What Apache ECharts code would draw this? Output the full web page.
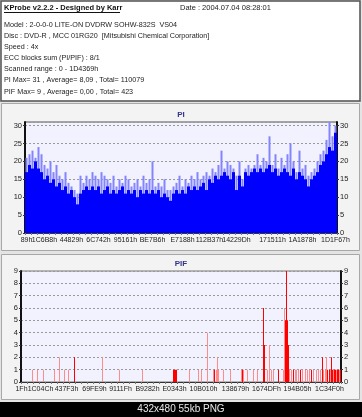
<!DOCTYPE html>
<html>
<head>
<meta charset="utf-8">
<script src="https://cdn.jsdelivr.net/npm/echarts@6/dist/echarts.min.js"></script>
<style>
  html, body { margin: 0; padding: 0; background: #000; }
  #chart { width: 362px; height: 417px; }
</style>
</head>
<body>
<div id="chart"></div>
<script>
// header block
const headerTitle = "KProbe v2.2.2 - Designed by Karr";
const headerDate = "Date : 2004.07.04 08:28:01";
const headerLines = [
  "Model : 2-0-0-0 LITE-ON DVDRW SOHW-832S  VS04",
  "Disc : DVD-R , MCC 01RG20  [Mitsubishi Chemical Corporation]",
  "Speed : 4x",
  "ECC blocks sum (PI/PIF) : 8/1",
  "Scanned range : 0 - 1D4369h",
  "PI Max= 31 , Average= 8,09 , Total= 110079",
  "PIF Max= 9 , Average= 0,00 , Total= 423"
];

// PI: one column per 3px, lower (dense) and upper (spike) envelope
const piBase = [
  17,19,18,20,18,17,15,16,14,15,
  13,14,12,13,11,12,10,8,11,12,
  13,12,13,12,13,11,12,13,11,12,
  11,12,13,11,12,11,12,10,12,11,
  12,11,12,11,12,10,11,10,9,11,
  12,11,12,11,13,12,13,12,13,14,
  12,15,14,16,15,16,17,16,15,17,
  12,16,13,17,16,17,18,17,18,17,
  18,19,17,18,16,17,18,17,16,18,
  15,17,16,15,13,15,16,17,19,20,
  22,24,23,28
];
const piPeak = [
  21,22,23,21,24,22,19,18,20,17,
  19,16,15,17,14,13,12,11,16,14,
  16,15,17,16,15,17,16,15,14,16,
  13,15,14,16,15,13,14,15,13,16,
  14,15,20,13,14,13,15,12,12,13,
  14,16,13,15,14,16,15,17,15,16,
  17,16,18,17,19,23,18,20,19,18,
  16,20,15,18,19,18,19,22,19,21,
  20,27,19,22,18,21,19,22,25,20,
  17,23,18,19,16,17,18,20,22,23,
  26,31,27,30
];
const piLabelIdx = [0, 6, 15, 24, 33, 42, 52, 61, 70, 82, 92, 103];
const piLabelText = ["89h", "1C6B8h", "44829h", "6C742h", "95161h", "BE7B6h",
  "E7188h", "112B37h", "14229Dh", "171511h", "1A1878h", "1D1F67h"];

// PIF: 320 one-pixel columns, sparse spikes
const pifCols = 320;
const pifLightCol = [11,16,22,33,38,43,47,81,98,121,
  168,177,180,186,192,195,196,197,202,209,
  220,222,226,232,236,246,248,250,252,262,
  263,268,270,274,275,277,281,284,286,288,
  292,295,297,299,302,304,305,309,312,315,318];
const pifLightVal = [1,1,1,1,2,1,1,2,1,1,
  1,1,1,4,1,1,2,1,1,1,
  1,1,1,1,1,1,3,1,1,1,
  6,1,1,1,1,1,1,1,1,1,
  1,1,1,1,1,1,2,1,1,1,1];
const pifDarkCol = [53,152,153,154,155,193,221,242,243,257,264,265,266,267,
  272,279,290,301,306,308,310,311,313,314,316,317,319];
const pifDarkVal = [2,1,1,1,1,1,1,6,3,1,5,9,5,3,
  1,1,1,2,1,1,2,1,1,1,1,1,1];
const pifLabelIdx = [0, 19, 45, 73, 99, 126, 153, 182, 214, 245, 276, 308];
const pifLabelText = ["1Fh", "1C04Ch", "437F3h", "69FE9h", "9111Fh", "B9282h",
  "E0343h", "10B010h", "138679h", "1674DFh", "194B05h", "1C34F0h"];

const FONT = "Liberation Sans";
const PIF_LIGHT = "#ff8c8c";
const PIF_DARK = "#ff0000";
const piCats = piBase.map((_, i) => String(i));
const pifCats = Array.from({ length: pifCols }, (_, i) => String(i));

// one item per pixel column, coloured by shade
const pifData = pifCats.map(() => ({ value: 0, itemStyle: { color: PIF_LIGHT } }));
pifLightCol.forEach((c, i) => { pifData[c] = { value: pifLightVal[i], itemStyle: { color: PIF_LIGHT } }; });
pifDarkCol.forEach((c, i) => { pifData[c] = { value: pifDarkVal[i], itemStyle: { color: PIF_DARK } }; });

function xAxis(grid, cats, idx, text, tickEvery, show) {
  return {
    type: "category", gridIndex: grid, data: cats, boundaryGap: true, show: show,
    axisLine: { lineStyle: { color: "#333", width: 1 } },
    axisTick: { show: true, length: 2, interval: (i) => i % tickEvery === 0, lineStyle: { color: "#777" } },
    axisLabel: {
      // every category gets a label slot, only the marked ones carry text
      interval: 0,
      formatter: (v, i) => { const k = idx.indexOf(i); return k >= 0 ? text[k] : ""; },
      hideOverlap: false,
      color: "#222", fontFamily: FONT, fontSize: 7, margin: 4
    },
    splitLine: { show: false }
  };
}

function yAxis(grid, max, interval, pos) {
  return {
    type: "value", gridIndex: grid, min: 0, max: max, interval: interval, position: pos,
    axisLine: { show: true, lineStyle: { color: "#111", width: 2 } },
    axisTick: { show: true, length: 2, lineStyle: { color: "#333" } },
    axisLabel: { color: "#222", fontFamily: FONT, fontSize: 7.5, margin: 3, showMaxLabel: max % interval === 0 },
    splitLine: pos === "left"
      ? { show: true, lineStyle: { color: "#999", type: [2, 2], width: 1 } }
      : { show: false }
  };
}

const graphic = [
  { type: "rect", z: -20, shape: { x: 0, y: 0, width: 362, height: 402 }, style: { fill: "#e4e4e4" } },
  { type: "rect", z: -10, shape: { x: 1, y: 1, width: 359, height: 100 }, style: { fill: "#fff", stroke: "#505050", lineWidth: 1.5 } },
  { type: "rect", z: -10, shape: { x: 1.5, y: 103.5, width: 358, height: 147 }, style: { fill: "#f3f3f3", stroke: "#a8a8a8", lineWidth: 1 } },
  { type: "rect", z: -10, shape: { x: 1.5, y: 254.5, width: 358, height: 145 }, style: { fill: "#f3f3f3", stroke: "#a8a8a8", lineWidth: 1 } },
  { type: "rect", z: -10, shape: { x: 0, y: 402, width: 362, height: 15 }, style: { fill: "#000" } },
  { type: "text", z: 50, x: 181, y: 409, style: { text: "432x480 55kb PNG", fill: "#e8e8e8", font: "10px " + FONT, textAlign: "center", textVerticalAlign: "middle" } },
  { type: "text", z: 50, x: 4, y: 8, style: { text: headerTitle, fill: "#111", font: "bold 7.5px " + FONT, textVerticalAlign: "middle" } },
  { type: "line", z: 50, shape: { x1: 4, y1: 12.5, x2: 120, y2: 12.5 }, style: { stroke: "#111", lineWidth: 1 } },
  { type: "text", z: 50, x: 180, y: 8, style: { text: headerDate, fill: "#222", font: "7.5px " + FONT, textVerticalAlign: "middle" } },
  { type: "text", z: 50, x: 181, y: 115, style: { text: "PI", fill: "#33338a", font: "bold 8px " + FONT, textAlign: "center", textVerticalAlign: "middle" } },
  { type: "text", z: 50, x: 181, y: 264, style: { text: "PIF", fill: "#33338a", font: "bold 8px " + FONT, textAlign: "center", textVerticalAlign: "middle" } }
];
headerLines.forEach((t, i) => {
  graphic.push({ type: "text", z: 50, x: 4, y: 25 + i * 11.1, style: { text: t, fill: "#222", font: "7.2px " + FONT, textVerticalAlign: "middle" } });
});

const chart = echarts.init(document.getElementById("chart"), null, { renderer: "canvas" });
chart.setOption({
  animation: false,
  backgroundColor: "#000",
  graphic: graphic,
  grid: [
    { left: 25, top: 122, width: 312, height: 111, show: true, backgroundColor: "#f2f2ff", borderColor: "#555", borderWidth: 1 },
    { left: 21, top: 271, width: 320, height: 111, show: true, backgroundColor: "#f2f2ff", borderColor: "#777", borderWidth: 1 }
  ],
  xAxis: [
    xAxis(0, piCats, piLabelIdx, piLabelText, 2, true),
    xAxis(0, piCats, [], [], 2, false),
    xAxis(1, pifCats, pifLabelIdx, pifLabelText, 6, true)
  ],
  yAxis: [
    yAxis(0, 31, 5, "left"),
    yAxis(0, 31, 5, "right"),
    yAxis(1, 9, 1, "left"),
    yAxis(1, 9, 1, "right")
  ],
  series: [
    { type: "bar", xAxisIndex: 1, yAxisIndex: 0, data: piPeak, barWidth: 2, itemStyle: { color: "#8484ff" }, silent: true },
    { type: "bar", xAxisIndex: 0, yAxisIndex: 0, data: piBase, barCategoryGap: "0%", itemStyle: { color: "#0000ff" }, silent: true, z: 3 },
    { type: "bar", xAxisIndex: 2, yAxisIndex: 2, data: pifData, barCategoryGap: "0%", silent: true }
  ]
});
</script>
</body>
</html>
